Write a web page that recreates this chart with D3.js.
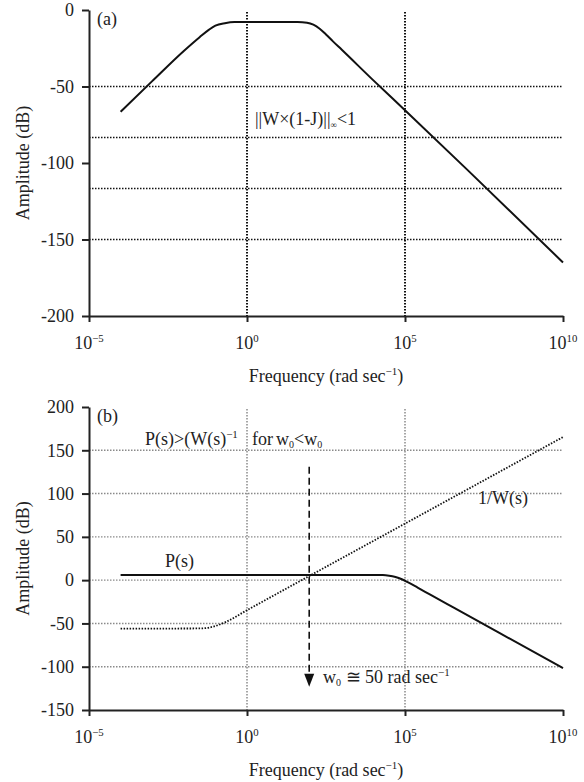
<!DOCTYPE html>
<html>
<head>
<meta charset="utf-8">
<script src="https://cdn.jsdelivr.net/npm/d3@7"></script>
<style>
  body { margin: 0; background: #fff; }
</style>
</head>
<body>
<svg id="chart" width="584" height="782"></svg>
<script>
// Frequency response plots, (a) weighting function and (b) plant vs 1/W

var FONT = "'Liberation Serif', 'Times New Roman', Tinos, serif";

// shared axis data
var xTickExp = [-5, 0, 5, 10];
var vGridFreq = [1, 1e5];

// panel (a)
var aTicks = [0, -50, -100, -150, -200];
var aGrid = [-50, -83.3, -116.7, -150];
var wLogFreq = [-4, -3, -2, -1.5, -1.2, -1, -0.7, -0.4, 1.6, 1.9, 2.1, 2.3, 2.5, 2.72, 3, 4, 5, 7, 10];
var wAmp =     [-66.5, -46.5, -26.8, -17.8, -12.8, -10.2, -8.6, -7.9, -7.8, -8.3, -9.6, -12.2, -16, -20.5, -26, -46, -65.5, -105, -165];

// panel (b)
var bTicks = [200, 150, 100, 50, 0, -50, -100, -150];
var bGrid = [150, 100, 50, 0, -50, -100];
var pLogFreq = [-4, 4.3, 4.5, 4.7, 4.9, 5.1, 5.4, 5.8, 6.5, 8, 10];
var pAmp =     [6, 5.9, 5.2, 3.6, 1.0, -2.6, -8.6, -16.8, -31, -61.3, -101.5];
var invWLogFreq = [-4, -1.5, -1.2, -1, -0.7, 0, 5, 10];
var invWAmp =     [-56, -55.8, -54.8, -53, -48.8, -34.7, 65.3, 165.3];
var arrowFreq = 93;          // crossing of P(s) and 1/W(s)
var arrowAmp = [131, -123];

var svg = d3.select('#chart');
var left = 89, right = 563;

var x = d3.scaleLog().domain([1e-5, 1e10]).range([left, right]);

function supLabel(sel, base, sup, fs) {
    sel.append('tspan').text(base);
    sel.append('tspan').text(sup).attr('font-size', fs * 0.6).attr('dy', -fs * 0.4);
}

function drawPanel(cfg) {
    var g = svg.append('g');
    var y = d3.scaleLinear().domain(cfg.domain).range([cfg.bottom, cfg.top]);

    // grid
    g.selectAll('line.hgrid')
        .data(cfg.grid)
        .enter()
      .append('line')
        .attr('class', 'hgrid')
        .attr('x1', left).attr('x2', right)
        .attr('y1', function (d) { return y(d); })
        .attr('y2', function (d) { return y(d); })
        .style('stroke', cfg.gridColor)
        .style('stroke-width', 1.4)
        .style('stroke-dasharray', '1.5,1.5');
    g.selectAll('line.vgrid')
        .data(vGridFreq)
        .enter()
      .append('line')
        .attr('class', 'vgrid')
        .attr('x1', function (d) { return x(d); })
        .attr('x2', function (d) { return x(d); })
        .attr('y1', cfg.top + 2).attr('y2', cfg.bottom)
        .style('stroke', cfg.gridColor)
        .style('stroke-width', cfg.vGridWidth)
        .style('stroke-dasharray', '1.5,1.5');

    // y axis
    var yAxis = d3.axisLeft(y).tickValues(cfg.ticks).tickSize(7).tickSizeOuter(0).tickPadding(8)
        .tickFormat(function (d) { return String(d); });
    var ya = g.append('g').attr('transform', 'translate(' + left + ',0)').call(yAxis);
    ya.attr('font-family', null).attr('font-size', null);
    ya.selectAll('text').attr('font-size', 18);
    ya.select('.domain').style('stroke', '#222').style('stroke-width', 2);
    ya.selectAll('.tick line').style('stroke', '#222').style('stroke-width', 2);

    // x axis
    var xAxis = d3.axisBottom(x).tickValues(xTickExp.map(function (e) { return Math.pow(10, e); }))
        .tickSize(6).tickSizeOuter(0).tickFormat('');
    var xa = g.append('g').attr('transform', 'translate(0,' + cfg.bottom + ')').call(xAxis);
    xa.select('.domain').style('stroke', '#222').style('stroke-width', 2);
    xa.selectAll('.tick line').style('stroke', '#222').style('stroke-width', 2);
    xTickExp.forEach(function (e) {
        var t = g.append('text')
            .attr('x', x(Math.pow(10, e)))
            .attr('y', cfg.bottom + 33)
            .attr('text-anchor', 'middle')
            .attr('font-size', 18);
        supLabel(t, '10', e < 0 ? '\u2212' + (-e) : String(e), 18);
    });

    // axis titles
    var xt = g.append('text')
        .attr('x', (left + right) / 2)
        .attr('y', cfg.bottom + 66)
        .attr('text-anchor', 'middle')
        .attr('font-size', 18);
    xt.append('tspan').text('Frequency (rad sec');
    xt.append('tspan').text('\u22121').attr('font-size', 11).attr('dy', -7);
    xt.append('tspan').text(')').attr('dy', 7);

    g.append('text')
        .attr('transform', 'translate(29,' + (cfg.top + cfg.bottom) / 2 + ') rotate(-90)')
        .attr('text-anchor', 'middle')
        .attr('font-size', 18)
        .text('Amplitude (dB)');

    g.append('text')
        .attr('x', 97).attr('y', cfg.top + 15)
        .attr('font-size', 18)
        .text(cfg.tag);

    return { g: g, y: y };
}

function series(fr, amp) {
    return fr.map(function (f, i) { return [Math.pow(10, f), amp[i]]; });
}

// ---- panel (a)
var pa = drawPanel({ domain: [-200, 0], ticks: aTicks, grid: aGrid, top: 10, bottom: 316,
    gridColor: '#111', vGridWidth: 2, tag: '(a)' });
var lineA = d3.line()
    .x(function (d) { return x(d[0]); })
    .y(function (d) { return pa.y(d[1]); })
    .curve(d3.curveMonotoneX);
pa.g.append('path')
    .attr('d', lineA(series(wLogFreq, wAmp)))
    .style('fill', 'none')
    .style('stroke', '#111')
    .style('stroke-width', 2);

var ta = pa.g.append('text').attr('x', 255).attr('y', 125).attr('font-size', 18);
ta.append('tspan').text('||W\u00d7(1-J)||');
ta.append('tspan').text('\u221e').attr('font-size', 9).attr('dy', 3);
ta.append('tspan').text('<1').attr('dy', -3);

// ---- panel (b)
var pb = drawPanel({ domain: [-150, 200], ticks: bTicks, grid: bGrid, top: 407, bottom: 710,
    gridColor: '#8a8a8a', vGridWidth: 1.5, tag: '(b)' });
var lineB = d3.line()
    .x(function (d) { return x(d[0]); })
    .y(function (d) { return pb.y(d[1]); })
    .curve(d3.curveMonotoneX);
pb.g.append('path')
    .attr('d', lineB(series(invWLogFreq, invWAmp)))
    .style('fill', 'none')
    .style('stroke', '#111')
    .style('stroke-width', 1.8)
    .style('stroke-dasharray', '1.5,1.5');
pb.g.append('path')
    .attr('d', lineB(series(pLogFreq, pAmp)))
    .style('fill', 'none')
    .style('stroke', '#111')
    .style('stroke-width', 2);

// dashed arrow down to w0
var ax = x(arrowFreq);
pb.g.append('line')
    .attr('x1', ax).attr('x2', ax)
    .attr('y1', pb.y(arrowAmp[0])).attr('y2', pb.y(arrowAmp[1]) - 10)
    .style('stroke', '#111')
    .style('stroke-width', 1.6)
    .style('stroke-dasharray', '7,4');
var tipY = pb.y(arrowAmp[1]);
pb.g.append('path')
    .attr('d', 'M' + (ax - 5) + ',' + (tipY - 13) + 'L' + (ax + 5) + ',' + (tipY - 13) + 'L' + ax + ',' + tipY + 'Z')
    .style('fill', '#111');

var tw = pb.g.append('text').attr('x', 323).attr('y', 683).attr('font-size', 18);
tw.append('tspan').text('w');
tw.append('tspan').text('0').attr('font-size', 10).attr('dy', 3);
tw.append('tspan').text(' \u2245 50 rad sec').attr('dy', -3);
tw.append('tspan').text('\u22121').attr('font-size', 11).attr('dy', -7);

var tp = pb.g.append('text').attr('x', 145).attr('y', 445).attr('font-size', 18);
tp.append('tspan').text('P(s)>(W(s)');
tp.append('tspan').text('\u22121').attr('font-size', 11).attr('dy', -7);
tp.append('tspan').text('for').attr('x', 252).attr('dy', 7);
tp.append('tspan').text('w').attr('x', 276);
tp.append('tspan').text('0').attr('font-size', 10).attr('dy', 3);
tp.append('tspan').text('<w').attr('dy', -3);
tp.append('tspan').text('0').attr('font-size', 10).attr('dy', 3);

pb.g.append('text').attr('x', 478).attr('y', 504).attr('font-size', 18).text('1/W(s)');
pb.g.append('text').attr('x', 165).attr('y', 567).attr('font-size', 18).text('P(s)');

// one font and colour for all text
svg.selectAll('text').style('font-family', FONT).style('fill', '#222');
</script>
</body>
</html>
